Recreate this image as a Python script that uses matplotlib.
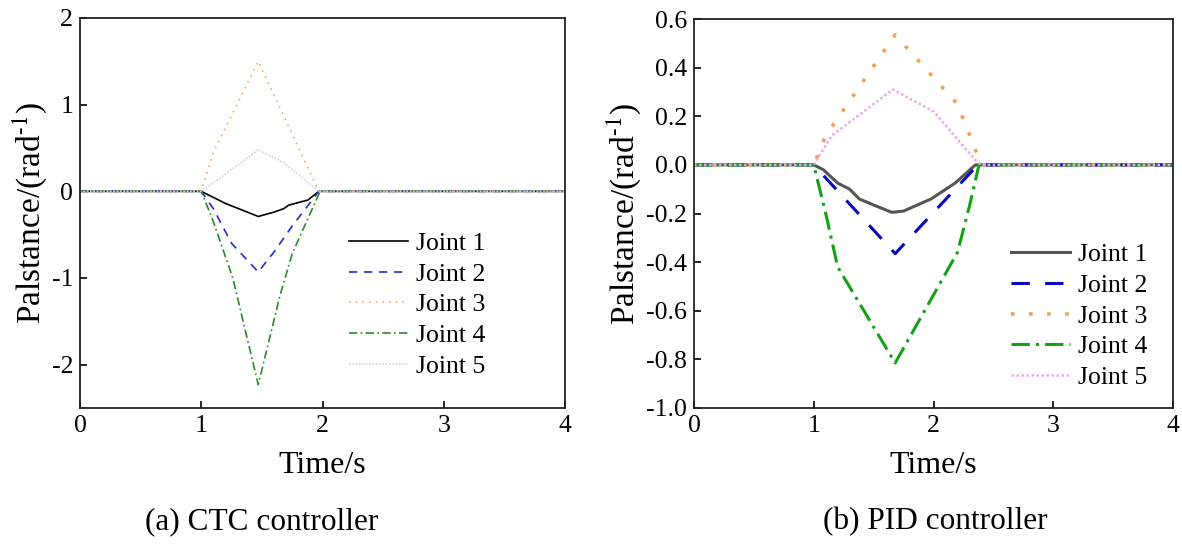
import matplotlib.pyplot as plt
import numpy as np

plt.rcParams['font.family'] = ['Liberation Serif', 'DejaVu Serif']
plt.rcParams['mathtext.fontset'] = 'stix'

labels = ["Joint 1", "Joint 2", "Joint 3", "Joint 4", "Joint 5"]

# (a) CTC controller
ctc_t1 = [0, 1.0, 1.2, 1.47, 1.6, 1.68, 1.72, 1.8, 1.88, 1.97, 4]
ctc_j1 = [0, 0, -0.14, -0.29, -0.24, -0.2, -0.16, -0.13, -0.1, 0, 0]
ctc_t2 = [0, 1.0, 1.1, 1.25, 1.47, 1.6, 1.75, 1.97, 4]
ctc_j2 = [0, 0, -0.2, -0.6, -0.93, -0.7, -0.4, 0, 0]
ctc_t3 = [0, 1.0, 1.1, 1.47, 1.72, 1.97, 4]
ctc_j3 = [0, 0, 0.45, 1.5, 0.75, 0, 0]
ctc_t4 = [0, 1.0, 1.1, 1.26, 1.47, 1.65, 1.75, 1.98, 4]
ctc_j4 = [0, 0, -0.35, -1.0, -2.23, -1.2, -0.72, 0, 0]
ctc_t5 = [0, 1.0, 1.2, 1.47, 1.68, 1.97, 4]
ctc_j5 = [0, 0, 0.2, 0.48, 0.33, 0, 0]

# (b) PID controller
pid_t1 = [0, 1.0, 1.08, 1.2, 1.3, 1.38, 1.5, 1.65, 1.75, 1.98, 2.18, 2.35, 4]
pid_j1 = [0, 0, -0.02, -0.075, -0.1, -0.14, -0.165, -0.195, -0.19, -0.14, -0.075, 0, 0]
pid_t2 = [0, 1.0, 1.68, 2.37, 4]
pid_j2 = [0, 0, -0.365, 0, 0]
pid_t3 = [0, 1.0, 1.1, 1.68, 2.2, 2.4, 4]
pid_j3 = [0, 0, 0.12, 0.535, 0.25, 0, 0]
pid_t4 = [0, 1.0, 1.1, 1.2, 1.68, 2.2, 2.3, 2.38, 4]
pid_j4 = [0, 0, -0.2, -0.42, -0.815, -0.36, -0.17, 0, 0]
pid_t5 = [0, 1.0, 1.15, 1.66, 2.0, 2.35, 2.4, 4]
pid_j5 = [0, 0, 0.12, 0.31, 0.22, 0.02, 0, 0]

fig = plt.figure(figsize=(11.82, 5.44), dpi=100)
ax1 = fig.add_axes([80 / 1182, 1 - 408 / 544, 485 / 1182, 390 / 544])
ax2 = fig.add_axes([694 / 1182, 1 - 408 / 544, 479 / 1182, 389 / 544])

# linke Grafik: dünne Linien
ax1.plot(ctc_t1, ctc_j1, color='black', lw=1.2, ls='-', label=labels[0])
ax1.plot(ctc_t2, ctc_j2, color='#2a2ac8', lw=1.2, ls=(0, (5, 4)), label=labels[1])
ax1.plot(ctc_t3, ctc_j3, color='#f0a860', lw=1.2, ls=(0, (1, 3)), label=labels[2])
ax1.plot(ctc_t4, ctc_j4, color='#2a8a2a', lw=1.2, ls=(0, (5, 2, 1, 2)), label=labels[3])
ax1.plot(ctc_t5, ctc_j5, color='#dcc8e0', lw=1.2, ls=(0, (1, 1)), label=labels[4])

# rechte Grafik: dickere Linien
ax2.plot(pid_t1, pid_j1, color='#555555', lw=2.2, ls='-', label=labels[0])
ax2.plot(pid_t2, pid_j2, color='#0a0ac0', lw=2.2, ls=(0, (6, 5)), label=labels[1])
ax2.plot(pid_t3, pid_j3, color='#f0a050', lw=2.6, ls=(0, (1, 4)), label=labels[2])
ax2.plot(pid_t4, pid_j4, color='#16a016', lw=2.2, ls=(0, (6, 2, 1, 2)), label=labels[3])
ax2.plot(pid_t5, pid_j5, color='#eaa6ea', lw=1.8, ls=(0, (1, 1)), label=labels[4])

ax1.set_xlim(0, 4)
ax1.set_ylim(-2.5, 2)
ax1.set_yticks([-2, -1, 0, 1, 2])
ax1.set_yticklabels(['-2', '-1', '0', '1', '2'])

ax2.set_xlim(0, 4)
ax2.set_ylim(-1.0, 0.6)
yt = [-1.0, -0.8, -0.6, -0.4, -0.2, 0.0, 0.2, 0.4, 0.6]
ax2.set_yticks(yt)
ax2.set_yticklabels([f"{v:.1f}" for v in yt])

for ax in (ax1, ax2):
    ax.set_xticks([0, 1, 2, 3, 4])
    ax.tick_params(direction='in', length=5, width=1.2, labelsize=18.5, pad=5)
    for s in ax.spines.values():
        s.set_linewidth(1.3)
        s.set_color('#222222')
    ax.set_xlabel('Time/s', fontsize=23, labelpad=10)
    ax.set_ylabel(r'Palstance/(rad$^{\text{-1}}$)', fontsize=24, labelpad=2)

ax1.legend(loc='lower right', bbox_to_anchor=(0.862, 0.045), frameon=False, fontsize=18.5,
           handlelength=2.3, labelspacing=0.3, handletextpad=0.3, borderpad=0)
ax2.legend(loc='lower right', bbox_to_anchor=(0.973, 0.016), frameon=False, fontsize=18.5,
           handlelength=2.3, labelspacing=0.3, handletextpad=0.3, borderpad=0)

fig.text(262 / 1182, 1 - 522 / 544, '(a) CTC controller', fontsize=22.5, ha='center', va='center')
fig.text(935 / 1182, 1 - 522 / 544, '(b) PID controller', fontsize=22.5, ha='center', va='center')

fig.savefig('out.png', dpi=100)
